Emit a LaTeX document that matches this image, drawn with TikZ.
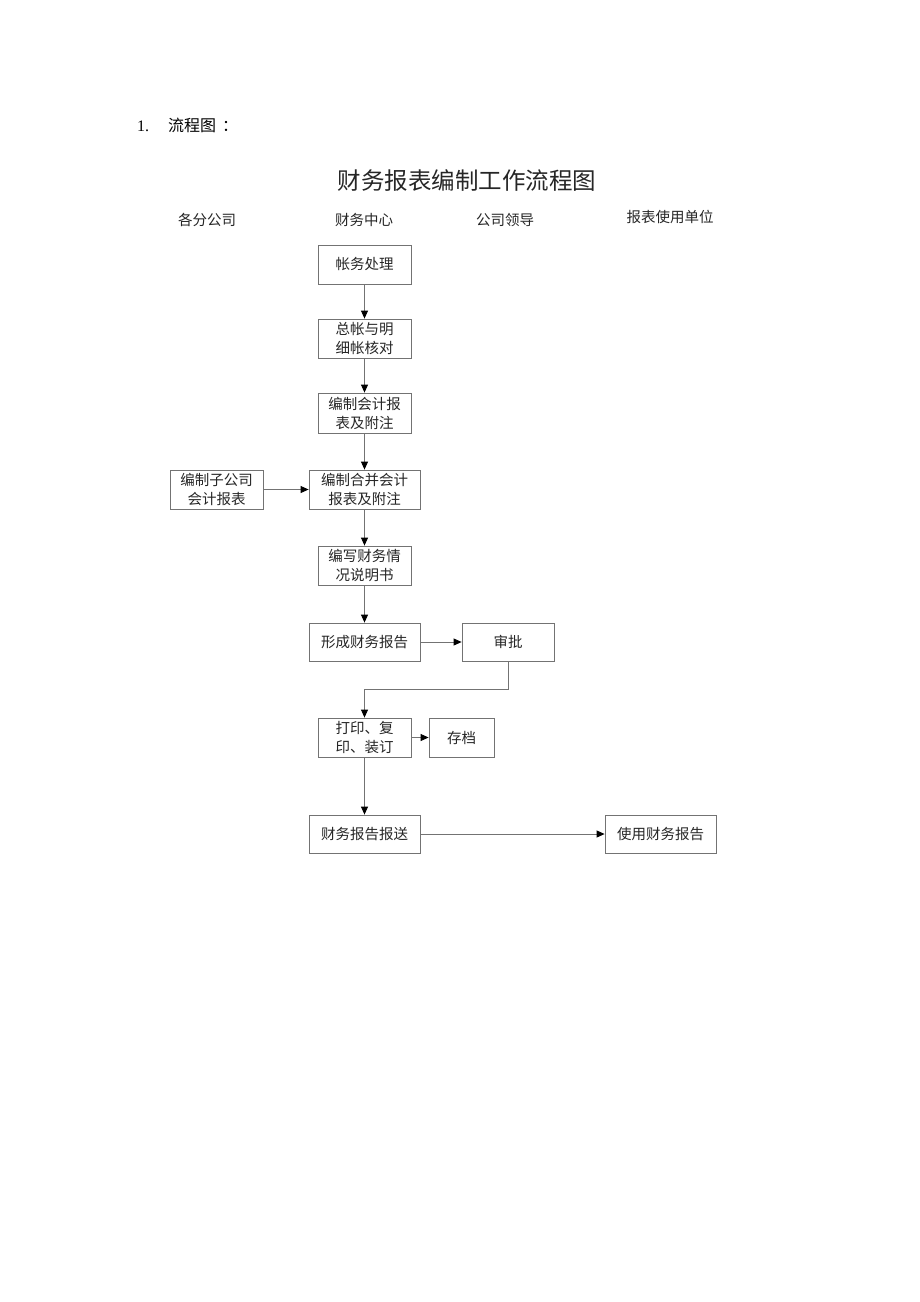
\documentclass[tikz,border=0pt]{standalone}
\usepackage{fontspec}
\setmainfont{Liberation Serif}
\newfontfamily\cjk{Noto Sans CJK SC}[Scale=1]
\usetikzlibrary{arrows.meta}
\tikzset{
  box/.style={draw=black!55, line width=0.8pt, inner sep=0pt, minimum height=39pt,
    align=center, font=\cjk\fontsize{14.5}{19}\selectfont, text=black!85},
  conn/.style={draw=black!55, line width=0.8pt, -{Triangle[length=8pt,width=7pt,black]}},
  plain/.style={draw=black!55, line width=0.8pt},
  hdr/.style={font=\cjk\fontsize{14.5}{18}\selectfont, text=black!85, inner sep=0pt},
}
\begin{document}
\begin{tikzpicture}[x=1pt,y=-1pt]
\useasboundingbox (0,0) rectangle (920,1302);
\fill[white] (0,0) rectangle (920,1302);
\node[inner sep=0pt, anchor=west, font=\fontsize{16}{18}\selectfont] (sec) at (137,125) {1.\hspace{19pt}{\cjk 流程图\hspace{6pt}：}};
\node[inner sep=0pt, font=\cjk\fontsize{23.5}{28}\selectfont, text=black!85] (title) at (467,181) {财务报表编制工作流程图};
\node[hdr] (h1) at (207,220) {各分公司};
\node[hdr] (h2) at (364,220) {财务中心};
\node[hdr] (h3) at (505,220) {公司领导};
\node[hdr] (h4) at (670,217) {报表使用单位};

\node[box, minimum width=93pt] (a) at (364.5,264.5) {帐务处理};
\node[box, minimum width=93pt] (b) at (364.5,338.5) {总帐与明\\细帐核对};
\node[box, minimum width=93pt, minimum height=40pt] (c) at (364.5,413) {编制会计报\\表及附注};
\node[box, minimum width=111pt] (d) at (364.5,489.5) {编制合并会计\\报表及附注};
\node[box, minimum width=93pt] (e) at (216.5,489.5) {编制子公司\\会计报表};
\node[box, minimum width=93pt] (f) at (364.5,565.5) {编写财务情\\况说明书};
\node[box, minimum width=111pt, minimum height=38pt] (g) at (364.5,642) {形成财务报告};
\node[box, minimum width=92pt, minimum height=38pt] (h) at (508,642) {审批};
\node[box, minimum width=93pt] (i) at (364.5,737.5) {打印、复\\印、装订};
\node[box, minimum width=65pt] (j) at (461.5,737.5) {存档};
\node[box, minimum width=111pt, minimum height=38pt] (k) at (364.5,834) {财务报告报送};
\node[box, minimum width=111pt, minimum height=38pt] (l) at (660.5,834) {使用财务报告};

\coordinate (m1) at (508,689);
\coordinate (m2) at (364.5,689);

\draw[conn] (a) -- (b);
\draw[conn] (b) -- (c);
\draw[conn] (c) -- (d);
\draw[conn] (e) -- (d);
\draw[conn] (d) -- (f);
\draw[conn] (f) -- (g);
\draw[conn] (g) -- (h);
\draw[plain] (h.south) -- (m1) -- (m2);
\draw[conn] (m2) -- (i.north);
\draw[conn] (i) -- (j);
\draw[conn] (i) -- (k);
\draw[conn] (k) -- (l);
\end{tikzpicture}
\end{document}
